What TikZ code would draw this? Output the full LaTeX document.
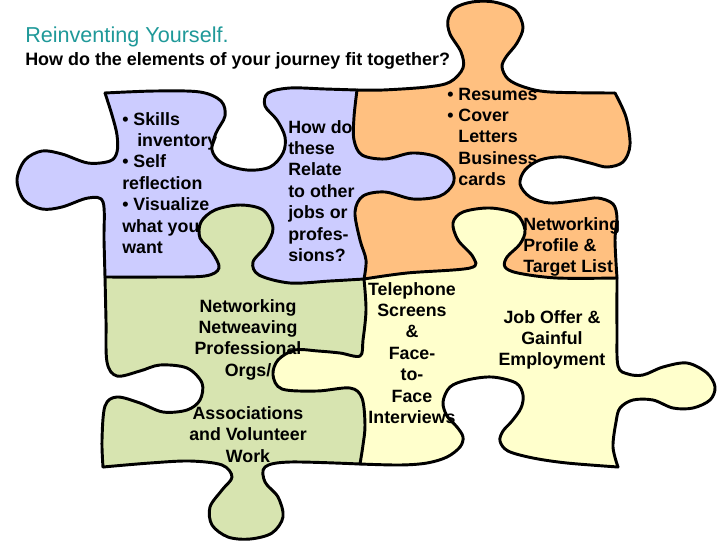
\documentclass[tikz,border=0pt]{standalone}
\usepackage{fontspec}
\setmainfont{Liberation Sans}
\definecolor{bluep}{HTML}{CCCCFF}
\definecolor{orangep}{HTML}{FFC080}
\definecolor{greenp}{HTML}{D7E4B0}
\definecolor{yellowp}{HTML}{FFFFCC}
\definecolor{titleteal}{HTML}{1F9999}
% shared edges (px coordinates)
\def\eA{plot[smooth,tension=0.55] coordinates {(105,93) (155,91) (200,92) (221,101) (225,116) (216,133) (212,150) (222,163) (247,170) (270,167) (283,153) (285,137) (277,120) (265,106) (268,93) (290,88) (325,89) (357,90)}}
\def\eB{plot[smooth,tension=0.55] coordinates {(357,90) (354,117) (354,140) (362,155) (385,159) (412,153) (437,157) (452,170) (453,184) (440,196) (413,199) (385,192) (363,196) (355,212) (360,240) (366,260) (364,279)}}
\def\eBr{plot[smooth,tension=0.55] coordinates {(364,279) (366,260) (360,240) (355,212) (363,196) (385,192) (413,199) (440,196) (453,184) (452,170) (437,157) (412,153) (385,159) (362,155) (354,140) (354,117) (357,90)}}
\def\eC{plot[smooth,tension=0.55] coordinates {(105,277) (160,277) (205,276) (219,268) (212,252) (200,238) (201,222) (215,210) (240,205) (263,210) (273,228) (266,246) (253,262) (259,275) (290,283) (330,281) (364,279)}}
\def\eCr{plot[smooth,tension=0.55] coordinates {(364,279) (330,281) (290,283) (259,275) (253,262) (266,246) (273,228) (263,210) (240,205) (215,210) (201,222) (200,238) (212,252) (219,268) (205,276) (160,277) (105,277)}}
\def\eD{plot[smooth,tension=0.55] coordinates {(105,93) (112,115) (117,135) (117,152) (110,161) (88,163) (62,154) (42,151) (25,160) (17,180) (24,200) (42,209) (62,207) (88,198) (103,202) (104,240) (105,277)}}
\def\eDr{plot[smooth,tension=0.55] coordinates {(105,277) (104,240) (103,202) (88,198) (62,207) (42,209) (24,200) (17,180) (25,160) (42,151) (62,154) (88,163) (110,161) (117,152) (117,135) (112,115) (105,93)}}
\def\eE{plot[smooth,tension=0.55] coordinates {(357,90) (383,90) (427,87) (450,82) (463,68) (461,52) (450,34) (448,20) (455,8) (472,2) (494,2) (515,10) (523,27) (517,43) (506,57) (502,67) (508,79) (524,87) (550,92) (615,93)}}
\def\eF{plot[smooth,tension=0.55] coordinates {(615,93) (626,117) (630,145) (623,162) (607,167) (590,163) (563,157) (540,160) (525,170) (520,184) (530,197) (550,203) (580,200) (598,198) (613,204) (617,218) (615,240) (617,278)}}
\def\eG{plot[smooth,tension=0.55] coordinates {(364,279) (407,273) (470,268) (473,257) (458,240) (453,223) (463,212) (490,208) (516,214) (525,230) (520,244) (507,257) (505,267) (518,273) (557,278) (617,278)}}
\def\eGr{plot[smooth,tension=0.55] coordinates {(617,278) (557,278) (518,273) (505,267) (507,257) (520,244) (525,230) (516,214) (490,208) (463,212) (453,223) (458,240) (473,257) (470,268) (407,273) (364,279)}}
\def\eH{plot[smooth,tension=0.55] coordinates {(364,279) (366,310) (363,340) (360,356) (340,353) (318,351) (295,350) (278,360) (273,375) (282,389) (317,391) (350,388) (362,398) (365,425) (363,445) (360,464)}}
\def\eHr{plot[smooth,tension=0.55] coordinates {(360,464) (363,445) (365,425) (362,398) (350,388) (317,391) (282,389) (273,375) (278,360) (295,350) (318,351) (340,353) (360,356) (363,340) (366,310) (364,279)}}
\def\eI{plot[smooth,tension=0.55] coordinates {(105,277) (106,320) (107,362) (117,376) (140,371) (160,365) (187,368) (202,383) (200,400) (187,410) (163,412) (140,403) (117,397) (105,406) (102,440) (103,467)}}
\def\eIr{plot[smooth,tension=0.55] coordinates {(103,467) (102,440) (105,406) (117,397) (140,403) (163,412) (187,410) (200,400) (202,383) (187,368) (160,365) (140,371) (117,376) (107,362) (106,320) (105,277)}}
\def\eJ{plot[smooth,tension=0.55] coordinates {(103,467) (150,463) (190,461) (222,465) (232,477) (222,490) (210,507) (212,525) (228,537) (250,539) (272,533) (283,517) (278,497) (265,482) (265,467) (290,462) (360,464)}}
\def\eJr{plot[smooth,tension=0.55] coordinates {(360,464) (290,462) (265,467) (265,482) (278,497) (283,517) (272,533) (250,539) (228,537) (212,525) (210,507) (222,490) (232,477) (222,465) (190,461) (150,463) (103,467)}}
\def\eK{plot[smooth,tension=0.55] coordinates {(617,278) (617,330) (618,366) (628,374) (643,375) (663,367) (687,363) (707,373) (715,387) (710,400) (693,408) (673,408) (653,400) (633,400) (620,408) (616,422) (613,447) (618,467)}}
\def\eL{plot[smooth,tension=0.55] coordinates {(360,464) (400,465) (427,463) (447,457) (460,447) (463,437) (457,427) (447,416) (443,402) (450,387) (467,380) (492,377) (516,383) (523,395) (521,408) (512,421) (503,431) (500,441) (508,451) (533,458) (567,463) (618,467)}}
\def\eLr{plot[smooth,tension=0.55] coordinates {(618,467) (567,463) (533,458) (508,451) (500,441) (503,431) (512,421) (521,408) (523,395) (516,383) (492,377) (467,380) (450,387) (443,402) (447,416) (457,427) (463,437) (460,447) (447,457) (427,463) (400,465) (360,464)}}
\newcommand\puzzlepiece[2]{\edef\piecetmp{\noexpand\fill[#1] #2 -- cycle;}\piecetmp}
\newcommand\puzzleedge[1]{\edef\piecetmp{\noexpand\draw[edgeline] #1;}\piecetmp}
\tikzset{
  edgeline/.style={line width=2.2pt, line join=round, line cap=round, draw=black},
  txt/.style={font=\fontsize{13.35}{16.1}\selectfont\bfseries, inner sep=0pt, text=black},
}
\begin{document}
\begin{tikzpicture}[x=0.75pt, y=-0.75pt]
\useasboundingbox (0,0) rectangle (720,540);
\fill[white] (0,0) rectangle (720,540);
% fills
\puzzlepiece{bluep}{\eA -- \eB -- \eCr -- \eDr}
\puzzlepiece{orangep}{\eE -- \eF -- \eGr -- \eBr}
\puzzlepiece{greenp}{\eC -- \eH -- \eJr -- \eIr}
\puzzlepiece{yellowp}{\eG -- \eK -- \eLr -- \eHr}
% outlines
\puzzleedge{\eA}
\puzzleedge{\eB}
\puzzleedge{\eC}
\puzzleedge{\eD}
\puzzleedge{\eE}
\puzzleedge{\eF}
\puzzleedge{\eG}
\puzzleedge{\eH}
\puzzleedge{\eI}
\puzzleedge{\eJ}
\puzzleedge{\eK}
\puzzleedge{\eL}
% titles
\node[anchor=base west, inner sep=0pt, font=\fontsize{16.2}{19}\selectfont, text=titleteal] (title) at (25,42) {Reinventing Yourself.};
\node[anchor=base west, inner sep=0pt, font=\fontsize{13.46}{16}\selectfont\bfseries] (subtitle) at (25,65) {How do the elements of your journey fit together?};
% texts
\node[txt, anchor=base west] (skills) at (122,125) {\begin{tabular}[t]{@{}l@{}}• Skills\\\hspace{11.25pt}inventory\\• Self\\reflection\\• Visualize\\what you\\want\end{tabular}};
\node[txt, anchor=base west] (relate) at (288,133) {\begin{tabular}[t]{@{}l@{}}How do\\these\\Relate\\to other\\jobs or\\profes-\\sions?\end{tabular}};
\node[txt, anchor=base west] (resumes) at (447,100) {\begin{tabular}[t]{@{}l@{}}• Resumes\\• Cover\\\phantom{• }Letters\\\phantom{• }Business\\\phantom{• }cards\end{tabular}};
\node[txt, anchor=base west] (profile) at (523,230) {\begin{tabular}[t]{@{}l@{}}Networking\\Profile \&\\Target List\end{tabular}};
\node[txt, anchor=base] (networking) at (248,312) {\begin{tabular}[t]{@{}c@{}}Networking\\Netweaving\\Professional\\Orgs/\\ \\Associations\\and Volunteer\\Work\end{tabular}};
\node[txt, anchor=base] (telephone) at (412,295) {\begin{tabular}[t]{@{}c@{}}Telephone\\Screens\\\&\\Face-\\to-\\Face\\Interviews\end{tabular}};
\node[txt, anchor=base] (joboffer) at (552,323) {\begin{tabular}[t]{@{}c@{}}Job Offer \&\\Gainful\\Employment\end{tabular}};
\end{tikzpicture}
\end{document}
